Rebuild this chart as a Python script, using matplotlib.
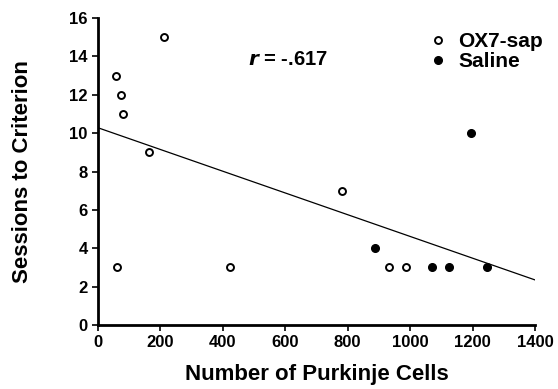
import numpy as np
import matplotlib
matplotlib.use("Agg")
import matplotlib.pyplot as plt

plt.rcParams['font.family'] = ['Liberation Sans', 'DejaVu Sans']
plt.rcParams['font.weight'] = 'bold'

# OX7-sap group (open circles)
ox7_cells = [58, 75, 81, 163, 213, 60, 423, 783, 931, 988]
ox7_sessions = [13, 12, 11, 9, 15, 3, 3, 7, 3, 3]

# Saline group (filled circles)
saline_cells = [886, 1071, 1125, 1195, 1247]
saline_sessions = [4, 3, 3, 10, 3]

# regression line end points
fit_x = [0, 1400]
fit_y = [10.28, 2.35]

x_ticks = [0, 200, 400, 600, 800, 1000, 1200, 1400]
y_ticks = [0, 2, 4, 6, 8, 10, 12, 14, 16]

fig = plt.figure(figsize=(5.58, 3.89), dpi=100)
ax = fig.add_axes([0.1756, 0.1645, 0.7832, 0.7892])

ax.plot(fit_x, fit_y, color="black", lw=0.9, zorder=1)
ax.plot(ox7_cells, ox7_sessions, "o", ls="none", ms=5, mfc="white",
        mec="black", mew=1.4, label="OX7-sap", zorder=3)
ax.plot(saline_cells, saline_sessions, "o", ls="none", ms=5.5, mfc="black",
        mec="black", label="Saline", zorder=3)

ax.set_xlim(0, 1400)
ax.set_ylim(0, 16)
ax.set_xticks(x_ticks)
ax.set_yticks(y_ticks)
ax.tick_params(direction="out", length=4, width=1.2, labelsize=12)
for lab in ax.get_xticklabels() + ax.get_yticklabels():
    lab.set_fontweight("bold")

for s in ["top", "right"]:
    ax.spines[s].set_visible(False)
for s in ["left", "bottom"]:
    ax.spines[s].set_linewidth(2)

ax.set_xlabel("Number of Purkinje Cells", fontsize=16, fontweight="bold", labelpad=10)
ax.set_ylabel("Sessions to Criterion", fontsize=16, fontweight="bold", labelpad=26)

ax.text(481, 13.86, "$\\bf{\\it{r}}$ = -.617", fontsize=14.5, fontweight="bold",
        va="center", ha="left")

leg = ax.legend(loc="upper left", bbox_to_anchor=(0.774, 0.918),
                bbox_transform=fig.transFigure, frameon=False,
                fontsize=15, handlelength=0.6, handletextpad=0.65,
                labelspacing=0.05, borderpad=0.0, borderaxespad=0.0)
for t in leg.get_texts():
    t.set_fontweight("bold")

fig.savefig("out.png", dpi=100)
